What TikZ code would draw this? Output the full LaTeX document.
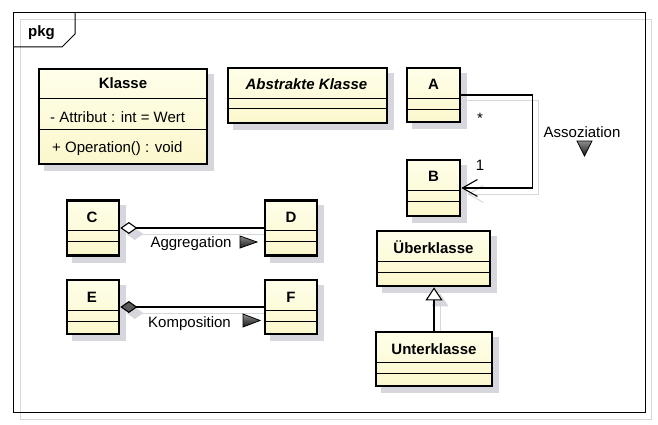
\documentclass[tikz,border=0pt]{standalone}
\usepackage{fontspec}
\setmainfont{Liberation Sans}
\usetikzlibrary{arrows.meta,backgrounds}
\definecolor{classtop}{RGB}{255,255,234}
\definecolor{classbot}{RGB}{251,247,204}
\definecolor{shadowgray}{RGB}{214,214,220}
\newcommand{\umlfont}{\fontsize{15}{18}\selectfont}
\begin{document}
\begin{tikzpicture}[x=1pt, y=-1pt,
    classbox/.style={draw, line width=2.7pt, top color=classtop, bottom color=classbot, inner sep=0pt},
    classname/.style={font=\umlfont\bfseries, anchor=base, inner sep=0pt},
    member/.style={font=\umlfont, anchor=base, inner sep=0pt},
    linklabel/.style={font=\umlfont, anchor=base, fill=white, inner sep=1pt},
    conn/.style={line width=1.1pt},
    shadowline/.style={draw=shadowgray, line width=1pt, transform canvas={xshift=6pt, yshift=-6pt}},
    dirmark/.style={draw, line width=0.8pt, top color=black!45, bottom color=black!90}]
  \useasboundingbox (0,0) rectangle (658,425);

  \draw[line width=1pt] (13,13) rectangle (645,412);
  \draw[line width=1pt] (13,47) -- (62,47) -- (75,34) -- (75,13);
  \node[classname] (pkg) at (41.5,37) {pkg};

  \node[classbox, minimum width=168pt, minimum height=95pt] (klasse) at (123,116.5) {};
  \node[classbox, minimum width=159pt, minimum height=55pt] (abstrakt) at (307.5,95.5) {};
  \node[classbox, minimum width=53pt, minimum height=54pt] (a) at (433.5,95) {};
  \node[classbox, minimum width=53pt, minimum height=56pt] (b) at (433.5,188) {};
  \node[classbox, minimum width=52pt, minimum height=55pt] (c) at (93,228) {};
  \node[classbox, minimum width=52pt, minimum height=55pt] (d) at (291,228) {};
  \node[classbox, minimum width=52pt, minimum height=54pt] (e) at (93,307) {};
  \node[classbox, minimum width=52pt, minimum height=54pt] (f) at (291,307) {};
  \node[classbox, minimum width=113pt, minimum height=55pt] (ueber) at (433.5,258.5) {};
  \node[classbox, minimum width=116pt, minimum height=54pt] (unter) at (434,359) {};

  \foreach \n/\p/\q in {klasse/98/129, abstrakt/98/108, a/98/109, b/190/201, c/230/241,
      d/230/241, e/310/321, f/310/321, ueber/261/272, unter/362/373} {
    \draw (\n.west |- 0,\p) -- (\n.east |- 0,\p);
    \draw (\n.west |- 0,\q) -- (\n.east |- 0,\q);
  }

  \node[classname] (klasse-name) at (123,89) {Klasse};
  \node[member, anchor=base west] (klasse-attr) at (50,122) {- Attribut : int = Wert};
  \node[member, anchor=base west] (klasse-op) at (52,152) {+ Operation() : void};
  \node[classname, font=\umlfont\bfseries\itshape] (abstrakt-name) at (306.5,90) {Abstrakte Klasse};
  \node[classname] (a-name) at (433.5,90) {A};
  \node[classname] (b-name) at (433.5,181) {B};
  \node[classname] (c-name) at (92,222) {C};
  \node[classname] (d-name) at (291,222) {D};
  \node[classname] (e-name) at (92,302) {E};
  \node[classname] (f-name) at (291,302) {F};
  \node[classname] (ueber-name) at (433.5,253) {Überklasse};
  \node[classname] (unter-name) at (434,354) {Unterklasse};

  \begin{pgfonlayer}{background}
    \draw[shadowgray, line width=1pt] (20,20) rectangle (651,419);
    \draw[shadowline, -{Straight Barb[length=15pt, width=17pt]}] (a.east) -- ++(71,0) |- (b.east);
    \draw[shadowline, {Diamond[length=17pt, width=12pt, fill=shadowgray]}-] (c.east) -- (d.west);
    \draw[shadowline, {Diamond[length=17pt, width=12pt, fill=shadowgray]}-] (e.east) -- (f.west);
    \draw[shadowline, -{Triangle[length=13pt, width=17pt, fill=shadowgray]}] (unter.north) -- (unter.north |- ueber.south);
    \foreach \n in {klasse,abstrakt,a,b,c,d,e,f,ueber,unter}
      \fill[shadowgray] ([shift={(6,6)}]\n.north west) rectangle ([shift={(6,6)}]\n.south east);
  \end{pgfonlayer}

  \draw[conn, -{Straight Barb[length=15pt, width=17pt]}] (a.east) -- ++(71,0) |- (b.east);
  \node[member] (mult-a) at (480,124) {*};
  \node[member] (mult-b) at (480,170) {1};
  \node[member] (assoz) at (582,137) {Assoziation};
  \draw[dirmark] (577,141) -- (592,141) -- (584.5,156) -- cycle;

  \draw[conn, {Diamond[length=17pt, width=12pt, fill=white]}-] (c.east) -- (d.west);
  \node[linklabel] (aggr) at (191,247) {Aggregation};
  \draw[dirmark] (240,236) -- (257,242) -- (240,248) -- cycle;

  \draw[conn, {Diamond[length=17pt, width=12pt, fill=black!65]}-] (e.east) -- (f.west);
  \node[linklabel] (kompo) at (189.5,327) {Komposition};
  \draw[dirmark] (243,314) -- (260,320.5) -- (243,327) -- cycle;

  \draw[conn, -{Triangle[length=13pt, width=17pt, fill=white]}] (unter.north) -- (unter.north |- ueber.south);
\end{tikzpicture}
\end{document}
